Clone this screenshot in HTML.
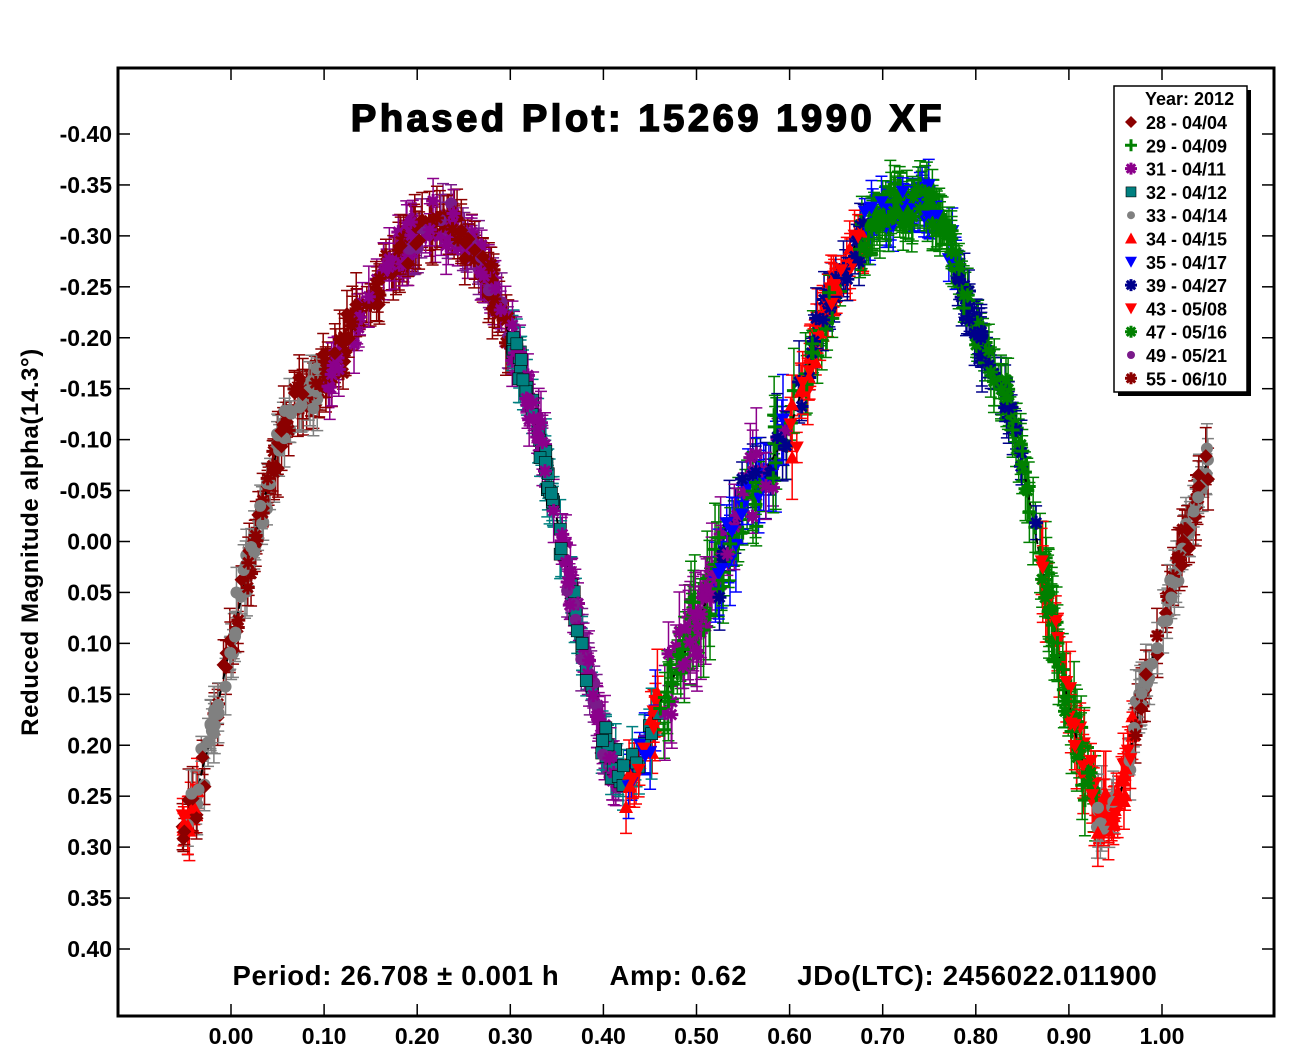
<!DOCTYPE html>
<html><head><meta charset="utf-8"><style>
body{margin:0;background:#fff;width:1300px;height:1058px;overflow:hidden;font-family:"Liberation Sans",Arial,sans-serif}
svg text{font-family:"Liberation Sans",Arial,sans-serif;font-weight:bold}
</style></head><body>
<svg id="s" width="1300" height="1058" xmlns="http://www.w3.org/2000/svg">
<rect x="0" y="0" width="1300" height="1058" fill="#fff"/>
<g id="data"></g>
<rect x="118" y="68" width="1156" height="948" fill="none" stroke="#000" stroke-width="3"/>
<g id="ticks" stroke="#000" stroke-width="1.5"></g>
<g id="labels" font-size="23" fill="#000"></g>
<text x="648" y="131" font-size="38" text-anchor="middle" stroke="#000" stroke-width="1.6" letter-spacing="3.6">Phased Plot: 15269 1990 XF</text>
<text x="695" y="985" font-size="27.5" text-anchor="middle" letter-spacing="0.7">Period: 26.708 ± 0.001 h&#160;&#160;&#160;&#160;&#160;&#160;Amp: 0.62&#160;&#160;&#160;&#160;&#160;&#160;JDo(LTC): 2456022.011900</text>
<text transform="translate(38,542) rotate(-90)" font-size="24" text-anchor="middle" letter-spacing="0.6">Reduced Magnitude alpha(14.3°)</text>
<rect x="1118" y="90" width="133" height="306" fill="#000"/>
<rect x="1114" y="86" width="133" height="306" fill="#fff" stroke="#000" stroke-width="1.5"/>
<g id="legend" font-size="18"></g>
</svg>
<script>
var NS="http://www.w3.org/2000/svg";
function el(t,a,p){var e=document.createElementNS(NS,t);for(var k in a)e.setAttribute(k,a[k]);(p||document.getElementById('data')).appendChild(e);return e;}
function px(x){return 231+931*x}
function py(m){return 541.5+1018.75*m}
var tk=document.getElementById('ticks'),lb=document.getElementById('labels');
for(var i=0;i<=10;i++){var x=px(i/10);el('line',{x1:x,y1:1016,x2:x,y2:1004},tk);el('line',{x1:x,y1:68,x2:x,y2:80},tk);
 var t=el('text',{x:x,y:1044,'text-anchor':'middle'},lb);t.textContent=(i/10).toFixed(2);}
for(var i=-8;i<=8;i++){var y=py(i*0.05);el('line',{x1:118,y1:y,x2:130,y2:y},tk);el('line',{x1:1274,y1:y,x2:1262,y2:y},tk);
 var t=el('text',{x:112,y:y+8,'text-anchor':'end'},lb);t.textContent=(i*0.05).toFixed(2);}
var S={
dr:['#8b0000','diamond'],gp:['#008000','plus'],pu:['#8b008b','star'],te:['#008080','square'],gy:['#808080','circle'],
rt:['#ff0000','tri'],bl:['#0000ff','tridown'],nv:['#00008b','star'],rd:['#ff0000','tridown'],gs:['#008000','star'],
vi:['#7a1a8a','circle'],dx:['#8b0000','star']};
function marker(k,x,y,g,sz){var c=S[k][0],m=S[k][1];sz=sz||7;
 if(m=='diamond')el('polygon',{points:(x)+','+(y-sz)+' '+(x+sz)+','+y+' '+x+','+(y+sz)+' '+(x-sz)+','+y,fill:c},g);
 else if(m=='plus'){el('path',{d:'M'+(x-sz)+' '+y+'h'+2*sz+'M'+x+' '+(y-sz)+'v'+2*sz,stroke:c,'stroke-width':3},g);}
 else if(m=='star'){var d='';for(var a=0;a<4;a++){var an=a*Math.PI/4;d+='M'+(x-sz*Math.cos(an))+' '+(y-sz*Math.sin(an))+'L'+(x+sz*Math.cos(an))+' '+(y+sz*Math.sin(an));}el('path',{d:d,stroke:c,'stroke-width':3},g);}
 else if(m=='square')el('rect',{x:x-sz+1,y:y-sz+1,width:2*sz-2,height:2*sz-2,fill:c,stroke:'#000','stroke-width':0.6},g);
 else if(m=='circle')el('circle',{cx:x,cy:y,r:sz-1,fill:c},g);
 else if(m=='tri')el('polygon',{points:x+','+(y-sz)+' '+(x+sz)+','+(y+sz-1)+' '+(x-sz)+','+(y+sz-1),fill:c},g);
 else if(m=='tridown')el('polygon',{points:x+','+(y+sz)+' '+(x+sz)+','+(y-sz+1)+' '+(x-sz)+','+(y-sz+1),fill:c},g);}
var cp=[[-0.06,0.29],[-0.05,0.28],[-0.03,0.22],[0,0.10],[0.03,-0.02],[0.06,-0.12],[0.1,-0.16],[0.15,-0.24],[0.2,-0.30],[0.23,-0.31],[0.27,-0.27],[0.3,-0.20],[0.33,-0.11],[0.36,0.02],[0.38,0.11],[0.40,0.19],[0.42,0.24],[0.44,0.21],[0.46,0.16],[0.50,0.08],[0.55,-0.03],[0.60,-0.11],[0.63,-0.20],[0.67,-0.29],[0.72,-0.33],[0.76,-0.32],[0.80,-0.21],[0.84,-0.12],[0.87,0.02],[0.90,0.16],[0.93,0.26],[0.95,0.26],[0.98,0.15],[1.0,0.08],[1.03,-0.02],[1.05,-0.08],[1.06,-0.10]];
function f(x){for(var i=0;i<cp.length-1;i++){if(x<=cp[i+1][0]){var a=cp[i],b=cp[i+1],t=(x-a[0])/(b[0]-a[0]);
 var p0=cp[Math.max(i-1,0)],p3=cp[Math.min(i+2,cp.length-1)];var t2=t*t,t3=t2*t;
 return 0.5*((2*a[1])+(-p0[1]+b[1])*t+(2*p0[1]-5*a[1]+4*b[1]-p3[1])*t2+(-p0[1]+3*a[1]-3*b[1]+p3[1])*t3);}}return cp[cp.length-1][1];}
var seed=7;function r(){seed=(seed*16807)%2147483647;return seed/2147483647;}
function gn(){return (r()+r()+r()-1.5)*0.8;}
var seg=[[-0.052,-0.035,['rd','rt','gy','dr'],25],[-0.035,0.05,['gy','dr','dx','gy'],80],[0.05,0.1,['dr','gy','dx'],55],[0.1,0.2,['dx','dr','pu'],90],[0.18,0.3,['pu','dx','dr','vi'],120],[0.3,0.36,['pu','te'],70],[0.36,0.42,['pu','te','vi'],80],[0.42,0.46,['rt','te','rd','bl'],40],[0.46,0.52,['pu','gp'],70],[0.52,0.6,['gp','nv','pu','bl','gp'],90],[0.6,0.68,['rd','rt','nv','gp'],90],[0.68,0.78,['gs','bl','gp','gs'],140],[0.78,0.87,['gs','nv','gp'],100],[0.87,0.93,['gs','rd','gp'],80],[0.93,0.97,['rd','rt','gy'],50],[0.97,1.05,['gy','dr','dx','gy'],80]];
var g=document.getElementById('data');
var pts=[];
seg.forEach(function(s){for(var i=0;i<s[3];i++){var x=s[0]+(s[1]-s[0])*r();var k=s[2][Math.floor(r()*s[2].length)];
 var sc=(x>0.45&&x<0.62)||(x>0.86&&x<0.94)?0.04:0.025;var m=f(x)+gn()*sc;var e=0.012+r()*(sc>0.03?0.035:0.02);pts.push([x,m,e,k]);}});
pts.forEach(function(p){var c=S[p[3]][0],X=px(p[0]),y1=py(p[1]-p[2]),y2=py(p[1]+p[2]);
 el('path',{d:'M'+X+' '+y1+'V'+y2+'M'+(X-6)+' '+y1+'h12M'+(X-6)+' '+y2+'h12',stroke:c,'stroke-width':1.5,fill:'none'},g);});
var d='';for(var x=-0.05;x<=1.05;x+=0.002){d+=(d?'L':'M')+px(x).toFixed(1)+' '+py(f(x)).toFixed(1);}
el('path',{d:d,stroke:'#000','stroke-width':2,fill:'none','stroke-dasharray':'6 3'},g);
pts.forEach(function(p){marker(p[3],px(p[0]),py(p[1]),g);});
var L=document.getElementById('legend');
var t=el('text',{x:1145,y:105},L);t.textContent='Year: 2012';
var ent=[['dr','28 - 04/04'],['gp','29 - 04/09'],['pu','31 - 04/11'],['te','32 - 04/12'],['gy','33 - 04/14'],['rt','34 - 04/15'],['bl','35 - 04/17'],['nv','39 - 04/27'],['rd','43 - 05/08'],['gs','47 - 05/16'],['vi','49 - 05/21'],['dx','55 - 06/10']];
ent.forEach(function(e,i){var y=122+i*23.3;marker(e[0],1131,y,L,e[0]=='gy'||e[0]=='vi'?5:6);var t=el('text',{x:1146,y:y+7},L);t.textContent=e[1];});
</script>
</body></html>
